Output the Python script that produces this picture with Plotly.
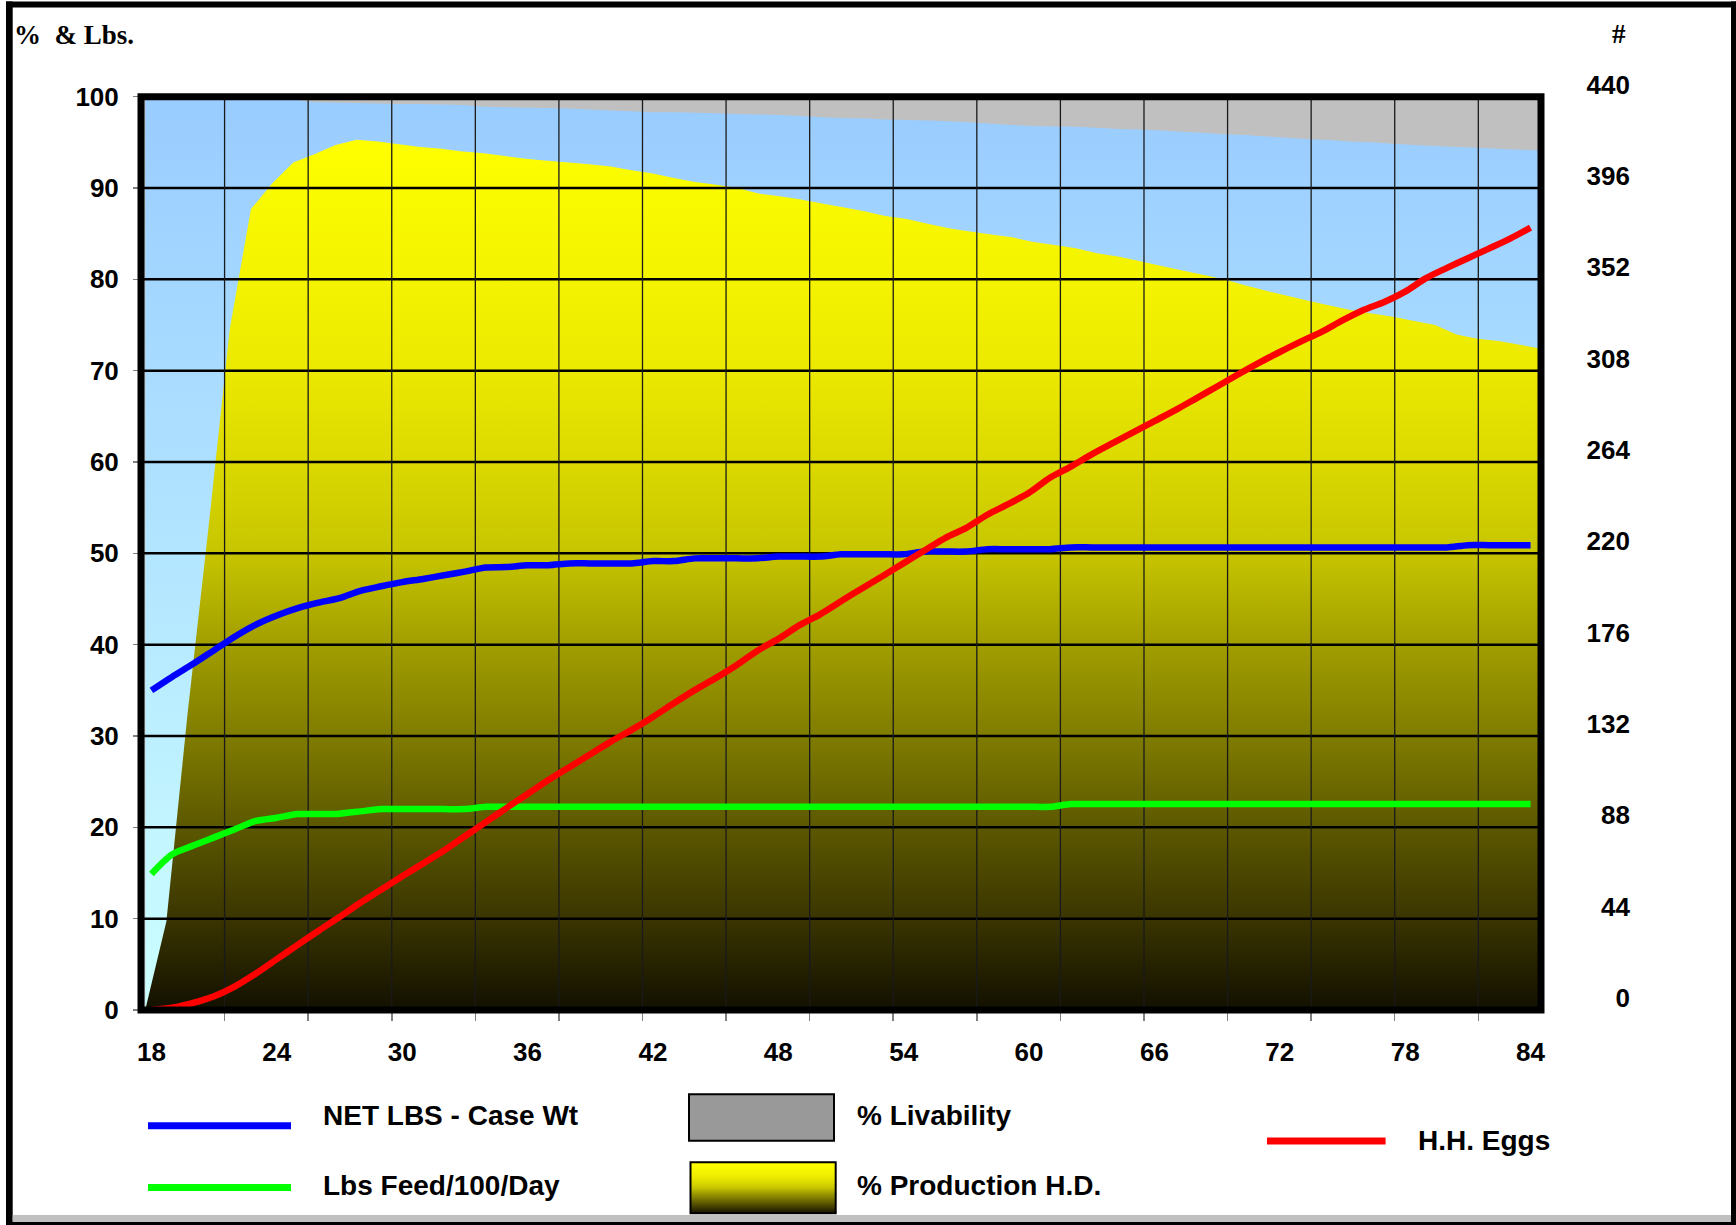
import plotly.graph_objects as go

# ---------------- data ----------------
weeks = list(range(18, 85))

production_hd = [
    0.0, 9.7, 32.4, 53.0, 74.6, 87.7, 90.5, 92.8, 93.7, 94.7,
    95.3, 95.1, 94.8, 94.5, 94.3, 94.0, 93.8, 93.5, 93.2, 93.0,
    92.8, 92.6, 92.35, 91.95, 91.6, 91.1, 90.65, 90.35, 90.0, 89.4,
    89.1, 88.75, 88.3, 87.9, 87.45, 86.95, 86.6, 86.1, 85.6, 85.25,
    84.9, 84.6, 84.1, 83.75, 83.4, 82.85, 82.5, 82.0, 81.5, 81.0,
    80.5, 80.0, 79.35, 78.75, 78.2, 77.65, 77.15, 76.65, 76.25, 75.9,
    75.45, 75.0, 73.95, 73.5, 73.25, 72.85, 72.4,
]

livability = [
    100.0, 100.0, 99.95, 99.9, 99.9, 99.85, 99.8, 99.7, 99.4, 99.35,
    99.3, 99.25, 99.2, 99.2, 99.15, 99.1, 98.9, 98.85, 98.8, 98.75,
    98.7, 98.6, 98.5, 98.4, 98.3, 98.3, 98.25, 98.2, 98.1, 98.05,
    98.0, 97.9, 97.75, 97.65, 97.6, 97.5, 97.45, 97.4, 97.3, 97.2,
    97.05, 96.9, 96.8, 96.75, 96.7, 96.6, 96.45, 96.4, 96.3, 96.15,
    96.05, 95.9, 95.8, 95.65, 95.5, 95.35, 95.25, 95.1, 95.0, 94.85,
    94.7, 94.6, 94.5, 94.4, 94.3, 94.2, 94.1,
]

net_lbs_case = [
    35.0, 36.5, 37.9, 39.4, 40.9, 42.2, 43.2, 44.0, 44.6, 45.1,
    45.9, 46.4, 46.85, 47.2, 47.6, 48.0, 48.45, 48.5, 48.7, 48.7,
    48.9, 48.9, 48.9, 48.9, 49.15, 49.15, 49.45, 49.45, 49.45, 49.45,
    49.65, 49.65, 49.65, 49.9, 49.9, 49.9, 49.9, 50.2, 50.2, 50.2,
    50.45, 50.45, 50.45, 50.45, 50.65, 50.65, 50.65, 50.65, 50.65, 50.65,
    50.65, 50.65, 50.65, 50.65, 50.65, 50.65, 50.65, 50.65, 50.65, 50.65,
    50.65, 50.65, 50.65, 50.9, 50.9, 50.9, 50.9,
]

feed_lbs_100_day = [
    14.9, 17.05, 18.0, 18.9, 19.8, 20.7, 21.05, 21.45, 21.45, 21.5,
    21.75, 22.0, 22.0, 22.0, 22.0, 22.0, 22.25, 22.25, 22.25, 22.25,
    22.25, 22.25, 22.25, 22.25, 22.25, 22.25, 22.25, 22.25, 22.25, 22.25,
    22.25, 22.25, 22.25, 22.25, 22.25, 22.25, 22.25, 22.25, 22.25, 22.25,
    22.25, 22.25, 22.25, 22.25, 22.55, 22.55, 22.55, 22.55, 22.55, 22.55,
    22.55, 22.55, 22.55, 22.55, 22.55, 22.55, 22.55, 22.55, 22.55, 22.55,
    22.55, 22.55, 22.55, 22.55, 22.55, 22.55, 22.55,
]

hh_eggs = [
    0.0, 1.1, 3.4, 6.6, 11.4, 17.6, 24.5, 31.4, 38.2, 44.8,
    51.7, 58.0, 64.4, 70.6, 76.8, 83.7, 90.5, 97.4, 104.1, 110.8,
    117.0, 123.2, 129.4, 135.1, 141.2, 147.8, 154.1, 159.9, 166.1, 173.1,
    178.8, 185.3, 190.6, 196.9, 203.1, 209.1, 215.3, 221.4, 227.5, 232.3,
    238.6, 243.7, 249.2, 256.4, 261.8, 267.7, 273.1, 278.4, 283.7, 289.0,
    294.7, 300.4, 306.2, 311.8, 317.0, 322.0, 326.7, 332.2, 337.2, 341.1,
    346.1, 352.6, 357.5, 362.2, 366.8, 371.5, 376.9,
]

x_tick_weeks = list(range(18, 85, 6))
x_grid_weeks = [21.5 + 4 * k for k in range(16)]
left_ticks = list(range(0, 101, 10))
right_ticks = list(range(0, 441, 44))

legend_names = ["NET LBS - Case Wt", "Lbs Feed/100/Day", "% Livability",
                "% Production H.D.", "H.H. Eggs"]

# ---------------- geometry helpers ----------------
W, H = 1736, 1225
def px(x):
    return x / W
def py(y):
    return 1 - y / H

PL, PR, PT, PB = 141, 1541, 96.7, 1010
SANS = "Liberation Sans, Arial, sans-serif"
SERIF = "Liberation Serif, Times New Roman, serif"

yellow_scale = [
    [0.0, "rgb(18,16,0)"], [0.1, "rgb(58,53,0)"], [0.2, "rgb(92,88,0)"],
    [0.3, "rgb(128,124,0)"], [0.4, "rgb(161,158,0)"], [0.5, "rgb(199,197,0)"],
    [0.6, "rgb(219,217,0)"], [0.7, "rgb(235,233,0)"], [0.8, "rgb(244,243,0)"],
    [0.9, "rgb(250,250,0)"], [0.95, "rgb(255,255,0)"], [1.0, "rgb(255,255,0)"],
]

fig = go.Figure()

# area series (own category axis spanning the full plot width)
fig.add_trace(go.Scatter(
    x=weeks, y=livability, xaxis="x", yaxis="y", mode="none", fill="tozeroy",
    fillgradient=dict(type="vertical", start=0, stop=100,
                      colorscale=[[0, "#CCFFFF"], [1, "#99CCFF"]]),
    name="% Livability", showlegend=False, hoverinfo="skip"))
fig.add_trace(go.Scatter(
    x=weeks, y=production_hd, xaxis="x", yaxis="y", mode="none", fill="tozeroy",
    fillgradient=dict(type="vertical", start=0, stop=100, colorscale=yellow_scale),
    name="% Production H.D.", showlegend=False, hoverinfo="skip"))

# gridlines drawn above the areas
gx, gy = [], []
for v in left_ticks[1:-1]:
    gx += [17.5, 84.5, None]
    gy += [v, v, None]
fig.add_trace(go.Scatter(x=gx, y=gy, xaxis="x2", yaxis="y", mode="lines",
                         line=dict(color="black", width=2.5),
                         showlegend=False, hoverinfo="skip"))
vx, vy = [], []
for w in x_grid_weeks:
    vx += [w, w, None]
    vy += [0, 100, None]
fig.add_trace(go.Scatter(x=vx, y=vy, xaxis="x2", yaxis="y", mode="lines",
                         line=dict(color="#1a1a1a", width=1.3),
                         showlegend=False, hoverinfo="skip"))

# line series
fig.add_trace(go.Scatter(x=weeks, y=feed_lbs_100_day, xaxis="x2", yaxis="y",
                         mode="lines", line=dict(color="#00FF00", width=6.5, shape="spline", smoothing=0.8),
                         name=legend_names[1], showlegend=False))
fig.add_trace(go.Scatter(x=weeks, y=net_lbs_case, xaxis="x2", yaxis="y",
                         mode="lines", line=dict(color="#0000FF", width=6.5, shape="spline", smoothing=0.8),
                         name=legend_names[0], showlegend=False))
fig.add_trace(go.Scatter(x=weeks, y=hh_eggs, xaxis="x2", yaxis="y2",
                         mode="lines", line=dict(color="#FF0000", width=6.5, shape="spline", smoothing=0.8),
                         name=legend_names[4], showlegend=False))

# gradient swatch for the legend (tiny subplot)
fig.add_trace(go.Scatter(x=[0, 1, 1, 0, 0], y=[0, 0, 1, 1, 0], xaxis="x3", yaxis="y3",
                         mode="none", fill="toself",
                         fillgradient=dict(type="vertical", start=0, stop=1, colorscale=yellow_scale),
                         showlegend=False, hoverinfo="skip"))

tickfont = dict(family=SANS, size=26, color="black", weight="bold")
xdom = [px(PL), px(PR)]
ydom = [py(PB), py(PT)]

fig.update_layout(
    template="none",
    width=W, height=H, margin=dict(l=0, r=0, t=0, b=0, pad=0, autoexpand=False),
    paper_bgcolor="white", plot_bgcolor="#C0C0C0", showlegend=False,
    xaxis=dict(domain=xdom, range=[17.8, 84], visible=False, fixedrange=True,
               automargin=False),
    yaxis=dict(domain=ydom, range=[0, 100], tickvals=left_ticks, ticks="outside",
               ticklen=7, tickwidth=1.5, tickcolor="#808080", showgrid=False,
               zeroline=False, showline=False, tickfont=tickfont,
               ticklabelstandoff=9, fixedrange=True, automargin=False),
    xaxis2=dict(overlaying="x", anchor="y", range=[17.5, 84.5], tickvals=x_tick_weeks,
                ticks="", showgrid=False, zeroline=False, showline=False,
                tickfont=tickfont, ticklabelstandoff=24, fixedrange=True,
                automargin=False,
                minor=dict(tickvals=x_grid_weeks, ticks="outside", ticklen=10,
                           tickwidth=1.5, tickcolor="#808080", showgrid=False)),
    yaxis2=dict(overlaying="y", anchor="free", position=px(1630), side="left",
                range=[0, 440], tickvals=right_ticks, ticks="", showgrid=False,
                zeroline=False, showline=False, tickfont=tickfont,
                ticklabelshift=-12, fixedrange=True, automargin=False),
    xaxis3=dict(domain=[px(690.5), px(835.7)], anchor="y3", range=[0, 1],
                visible=False, fixedrange=True, automargin=False),
    yaxis3=dict(domain=[py(1213.3), py(1162.3)], anchor="x3", range=[0, 1],
                visible=False, fixedrange=True, automargin=False),
)

shapes = []
# plot border
shapes.append(dict(type="rect", xref="paper", yref="paper", x0=px(PL), x1=px(PR),
                   y0=py(PB), y1=py(PT), line=dict(color="black", width=7), layer="above"))
# outer frame
for (x0, y0, x1, y1, c) in [
    (6, 1.5, 12.7, 1225, "black"), (6, 1.5, 1736, 7.5, "black"),
    (1731, 1.5, 1736, 1225, "black"), (6, 1221.7, 1736, 1225, "black"),
    (12.7, 1215, 1731, 1221.7, "#C0C0C0"),
]:
    shapes.append(dict(type="rect", xref="paper", yref="paper", x0=px(x0), x1=px(x1),
                       y0=py(y1), y1=py(y0), line=dict(width=0), fillcolor=c, layer="above"))
# legend samples
for (x0, x1, yy, c) in [(148, 291, 1125.7, "#0000FF"), (148, 291, 1187.4, "#00FF00"),
                        (1267, 1385.6, 1141, "#FF0000")]:
    shapes.append(dict(type="line", xref="paper", yref="paper", x0=px(x0), x1=px(x1),
                       y0=py(yy), y1=py(yy), line=dict(color=c, width=7)))
shapes.append(dict(type="rect", xref="paper", yref="paper", x0=px(689), x1=px(834),
                   y0=py(1140.7), y1=py(1094.3), fillcolor="#999999",
                   line=dict(color="black", width=2)))
shapes.append(dict(type="rect", xref="paper", yref="paper", x0=px(690.5), x1=px(835.7),
                   y0=py(1213.3), y1=py(1162.3), line=dict(color="black", width=2),
                   layer="above"))
fig.update_layout(shapes=shapes)

legfont = dict(family=SANS, size=28, color="black", weight="bold")
annotations = [
    dict(text="%\u00a0\u00a0& Lbs.", x=px(12), y=py(35), xanchor="left", yanchor="middle",
         font=dict(family=SERIF, size=27, color="black", weight="bold")),
    dict(text="#", x=px(1628), y=py(34), xanchor="right", yanchor="middle",
         font=dict(family=SERIF, size=27, color="black", weight="bold")),
    dict(text=legend_names[0], x=px(321), y=py(1115), xanchor="left", yanchor="middle", font=legfont),
    dict(text=legend_names[1], x=px(321), y=py(1185), xanchor="left", yanchor="middle", font=legfont),
    dict(text=legend_names[2], x=px(855), y=py(1115), xanchor="left", yanchor="middle", font=legfont),
    dict(text=legend_names[3], x=px(855), y=py(1185), xanchor="left", yanchor="middle", font=legfont),
    dict(text=legend_names[4], x=px(1416), y=py(1140), xanchor="left", yanchor="middle", font=legfont),
]
for a in annotations:
    a.update(xref="paper", yref="paper", showarrow=False)
fig.update_layout(annotations=annotations)

fig.write_html("out.html",
               config={"displayModeBar": False, "staticPlot": True},
               post_script="document.body.style.margin='0px';document.body.style.overflow='hidden';")
